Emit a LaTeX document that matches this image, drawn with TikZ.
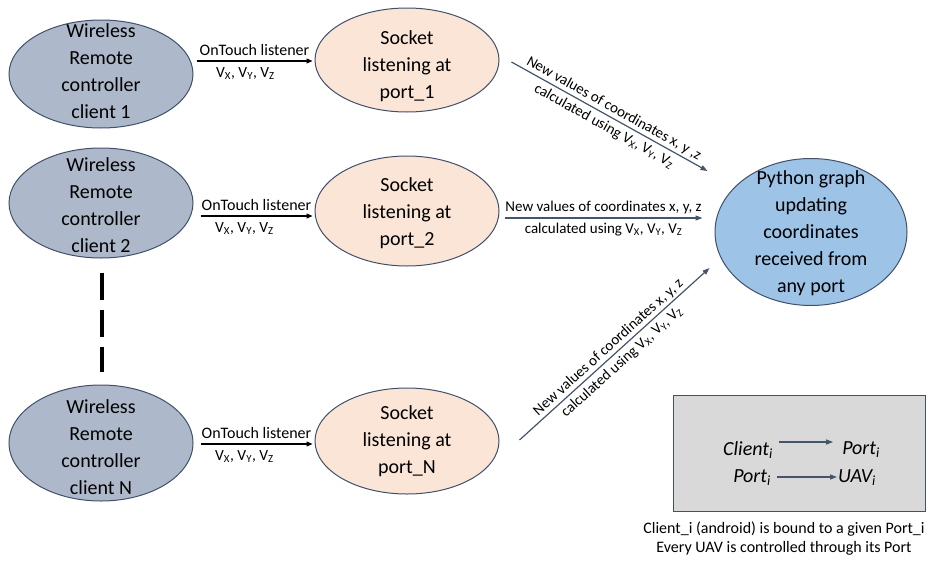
\documentclass[tikz,border=0pt]{standalone}
\usepackage{fontspec}
\setmainfont{Carlito}
\usetikzlibrary{arrows.meta,shapes.geometric}
\definecolor{clientfill}{HTML}{ADB9CA}
\definecolor{sockfill}{HTML}{FBE5D6}
\definecolor{pyfill}{HTML}{9DC3E6}
\definecolor{edgecol}{HTML}{41506B}
\definecolor{arrcol}{HTML}{44546A}
\definecolor{legfill}{HTML}{D9D9D9}
\begin{document}
\begin{tikzpicture}[x=1pt,y=-1pt,
 ell/.style={ellipse, draw=edgecol, line width=1pt, inner sep=0pt, minimum width=184pt},
 client/.style={ell, fill=clientfill},
 sock/.style={ell, fill=sockfill},
 big/.style={align=center, font=\fontsize{20}{27}\selectfont, inner sep=0pt},
 lbl/.style={font=\fontsize{16}{18}\selectfont, inner sep=0pt, text=black},
 vlbl/.style={font=\fontsize{15.5}{18}\selectfont, inner sep=0pt, text=black},
 dlbl/.style={font=\fontsize{15}{18}\selectfont, inner sep=0pt, text=black},
 leg/.style={font=\fontsize{20}{24}\selectfont\itshape, inner sep=0pt},
 blk/.style={-{Triangle[length=6pt,width=5pt]}, line width=1.2pt, black},
 darr/.style={-{Triangle[length=7pt,width=5pt]}, line width=1.2pt, arrcol},
]
\useasboundingbox (0,0) rectangle (941,562);

% clients
\node[client, minimum height=108pt] (c1) at (101,74) {};
\node[client, minimum height=110pt] (c2) at (101,203) {};
\node[client, minimum height=116pt] (cN) at (101,443) {};
\node[big] (tc1) at (101,71) {Wireless\\Remote\\controller\\client 1};
\node[big] (tc2) at (101,205) {Wireless\\Remote\\controller\\client 2};
\node[big] (tcN) at (101,447) {Wireless\\Remote\\controller\\client N};

% sockets
\node[sock, minimum height=104pt] (s1) at (407,60) {};
\node[sock, minimum height=110pt] (s2) at (407,211) {};
\node[sock, minimum height=106pt] (sN) at (407,441) {};
\node[big] (ts1) at (407,66) {Socket\\listening at\\port\_1};
\node[big] (ts2) at (407,213) {Socket\\listening at\\port\_2};
\node[big] (tsN) at (407,441) {Socket\\listening at\\port\_N};

% python
\node[ell, fill=pyfill, minimum width=192pt, minimum height=147pt] (py) at (811,232) {};
\node[big] (tpy) at (811,233) {Python graph\\updating\\coordinates\\received from\\any port};

% dashed separator
\draw[line width=4pt, dash pattern=on 27pt off 10pt] ([shift={(1,14)}]c2.south) -- ([shift={(1,-13)}]cN.north);

% client -> socket
\draw[blk] ([shift={(3,-13)}]c1.east) -- node[midway, above=5pt, lbl]{OnTouch listener}
  node[midway, below=6pt, xshift=-9pt, vlbl]{V\textsubscript{X}, V\textsubscript{Y}, V\textsubscript{Z}} ([shift={(-2,1)}]s1.west);
\draw[blk] ([shift={(7,13)}]c2.east) -- node[midway, above=5pt, lbl]{OnTouch listener}
  node[midway, below=6pt, xshift=-12pt, vlbl]{V\textsubscript{X}, V\textsubscript{Y}, V\textsubscript{Z}} ([shift={(-2,5)}]s2.west);
\draw[blk] ([shift={(7,1)}]cN.east) -- node[midway, above=5pt, lbl]{OnTouch listener}
  node[midway, below=6pt, xshift=-12pt, vlbl]{V\textsubscript{X}, V\textsubscript{Y}, V\textsubscript{Z}} ([shift={(-2,3)}]sN.west);

% socket -> python
\draw[darr] ([shift={(12,2)}]s1.east) -- node[midway, sloped, above=2pt, dlbl]{New values of coordinates x, y ,z}
  node[midway, sloped, below=4pt, dlbl]{calculated using V\textsubscript{X}, V\textsubscript{Y}, V\textsubscript{Z}} ([shift={(-7,-61)}]py.west);
\draw[darr] ([shift={(5,7)}]s2.east) -- node[midway, above=3pt, dlbl]{New values of coordinates x, y, z}
  node[midway, below=4pt, dlbl]{calculated using V\textsubscript{X}, V\textsubscript{Y}, V\textsubscript{Z}} ([shift={(-12,-14)}]py.west);
\draw[darr] ([shift={(20,-1)}]sN.east) -- node[midway, sloped, above=2pt, dlbl]{New values of coordinates x, y, z}
  node[midway, sloped, below=4pt, dlbl]{calculated using V\textsubscript{X}, V\textsubscript{Y}, V\textsubscript{Z}} ([shift={(-5,36)}]py.west);

% legend
\node[draw=edgecol, fill=legfill, line width=1pt, minimum width=252pt, minimum height=116pt, inner sep=0pt] (lg) at (799,453) {};
\node[leg] (lc1) at (748,450) {Client\textsubscript{i}};
\node[leg] (lp1) at (861,450) {Port\textsubscript{i}};
\node[leg] (lp2) at (752,478) {Port\textsubscript{i}};
\node[leg] (lu2) at (857,478) {UAV\textsubscript{i}};
\draw[darr] ([shift={(6,-8)}]lc1.east) -- ([shift={(-9,-8)}]lp1.west);
\draw[darr] ([shift={(6,-1)}]lp2.east) -- ([shift={(-1,-1)}]lu2.west);

\node[align=center, inner sep=0pt, font=\fontsize{16}{19}\selectfont] (cap) at (784,539) {Client\_i (android) is bound to a given Port\_i\\Every UAV is controlled through its Port};
\end{tikzpicture}
\end{document}
